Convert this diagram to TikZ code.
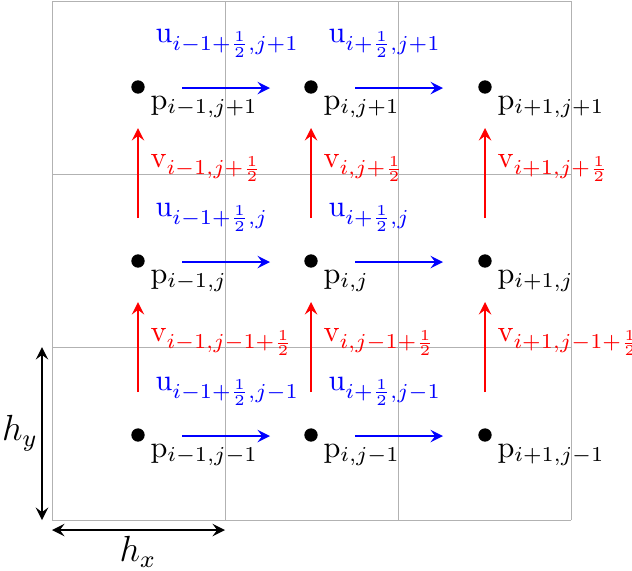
\documentclass[tikz,border=0pt]{standalone}
\begin{document}
\begin{tikzpicture}[x=0.33pt,y=-0.33pt,
  dot/.style={circle,fill=black,inner sep=0pt,minimum size=4.4pt},
  plab/.style={anchor=north west,inner sep=0pt},
  ulab/.style={anchor=south west,inner sep=0pt,text=blue},
  vlab/.style={anchor=west,inner sep=0pt,text=red},
  uarr/.style={->,blue,thick,>=stealth},
  varr/.style={->,red,thick,>=stealth},
  dim/.style={<->,thick,>=stealth},
  gridline/.style={gray!60,line width=0.3pt}]
\useasboundingbox (0,0) rectangle (632,570);
\foreach \x in {52,225,398,571} \draw[gridline] (\x,1) -- (\x,520);
\foreach \y in {1,174,347,520} \draw[gridline] (52,\y) -- (571,\y);
\foreach \x/\i [count=\c] in {138/{i-1},311/{i},485/{i+1}}{
  \foreach \y/\j [count=\r] in {87/{j+1},261/{j},435/{j-1}}{
    \node[dot] (p\c\r) at (\x,\y) {};
    \node[plab] (pl\c\r) at (\x+12,\y+8) {p$_{\i,\j}$};
  }}
\foreach \x/\i [count=\c] in {182/{i-1},355/{i}}{
  \foreach \y/\j [count=\r] in {88/{j+1},262/{j},436/{j-1}}{
    \coordinate (ua\c\r) at (\x,\y);
    \coordinate (ub\c\r) at (\x+88,\y);
    \draw[uarr] (ua\c\r) -- (ub\c\r);
    \node[ulab] (ul\c\r) at (\x-27,\y-30) {u$_{\i+\frac12,\j}$};
  }}
\foreach \x/\i [count=\c] in {138/{i-1},311/{i},485/{i+1}}{
  \foreach \y/\j [count=\r] in {218/{j+\frac12},392/{j-1+\frac12}}{
    \coordinate (va\c\r) at (\x,\y);
    \coordinate (vb\c\r) at (\x,\y-90);
    \draw[varr] (va\c\r) -- (vb\c\r);
    \node[vlab] (vl\c\r) at (\x+12,\y-50) {v$_{\i,\j}$};
  }}
\coordinate (hy1) at (42,347); \coordinate (hy2) at (42,520);
\draw[dim] (hy1) -- (hy2);
\node[font=\large] (hy) at (20,433) {$h_y$};
\coordinate (hx1) at (52,530); \coordinate (hx2) at (225,530);
\draw[dim] (hx1) -- (hx2);
\node[font=\large] (hx) at (138,552) {$h_x$};
\end{tikzpicture}
\end{document}
